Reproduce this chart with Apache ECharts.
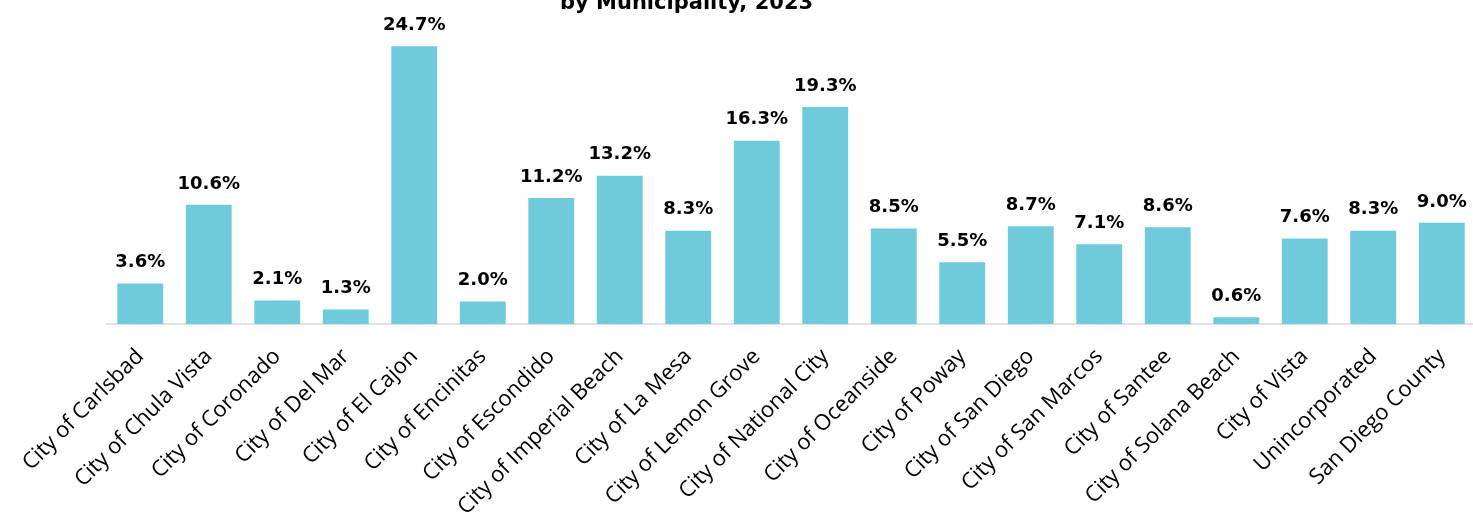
<!DOCTYPE html>
<html>
<head>
<meta charset="utf-8">
<script src="https://cdn.jsdelivr.net/npm/echarts@6/dist/echarts.min.js"></script>
<style>
  html, body { margin: 0; padding: 0; background: #ffffff; }
  #chart { width: 1473px; height: 514px; }
</style>
</head>
<body>
<div id="chart"></div>
<script>
// Municipalities shown along the x axis
const categories = [
  'City of Carlsbad', 'City of Chula Vista', 'City of Coronado', 'City of Del Mar',
  'City of El Cajon', 'City of Encinitas', 'City of Escondido', 'City of Imperial Beach',
  'City of La Mesa', 'City of Lemon Grove', 'City of National City', 'City of Oceanside',
  'City of Poway', 'City of San Diego', 'City of San Marcos', 'City of Santee',
  'City of Solana Beach', 'City of Vista', 'Unincorporated', 'San Diego County'
];

// Percentage for each municipality, 2023
const percentValues = [
  3.6, 10.6, 2.1, 1.3, 24.7, 2.0, 11.2, 13.2, 8.3, 16.3,
  19.3, 8.5, 5.5, 8.7, 7.1, 8.6, 0.6, 7.6, 8.3, 9.0
];

const titleLine = 'by Municipality, 2023';

const chart = echarts.init(document.getElementById('chart'), null, { renderer: 'canvas' });

chart.setOption({
  animation: false,
  backgroundColor: '#ffffff',
  graphic: [{
    type: 'text',
    left: 560,
    top: -7,
    style: {
      text: titleLine,
      font: 'bold 21px "DejaVu Sans"',
      fill: '#000000'
    }
  }],
  grid: {
    left: 106, right: -3, top: 43, bottom: 190,
    containLabel: false,
    outerBoundsMode: 'none'
  },
  xAxis: {
    type: 'category',
    data: categories,
    axisLine: { show: true, lineStyle: { color: '#d9d9d9', width: 1.5 } },
    axisTick: { show: false },
    axisLabel: {
      interval: 0,
      rotate: 45,
      margin: 29,
      color: '#000000',
      fontFamily: 'Open Sans',
      fontSize: 22
    }
  },
  yAxis: {
    type: 'value',
    min: 0,
    max: 25,
    show: false,
    splitLine: { show: false }
  },
  series: [{
    type: 'bar',
    data: percentValues,
    barCategoryGap: '33%',
    itemStyle: { color: '#6fcbdc' },
    label: {
      show: true,
      position: 'top',
      distance: 12,
      color: '#000000',
      fontFamily: 'DejaVu Sans',
      fontWeight: 'bold',
      fontSize: 18,
      formatter: p => p.value.toFixed(1) + '%'
    }
  }]
});
</script>
</body>
</html>
